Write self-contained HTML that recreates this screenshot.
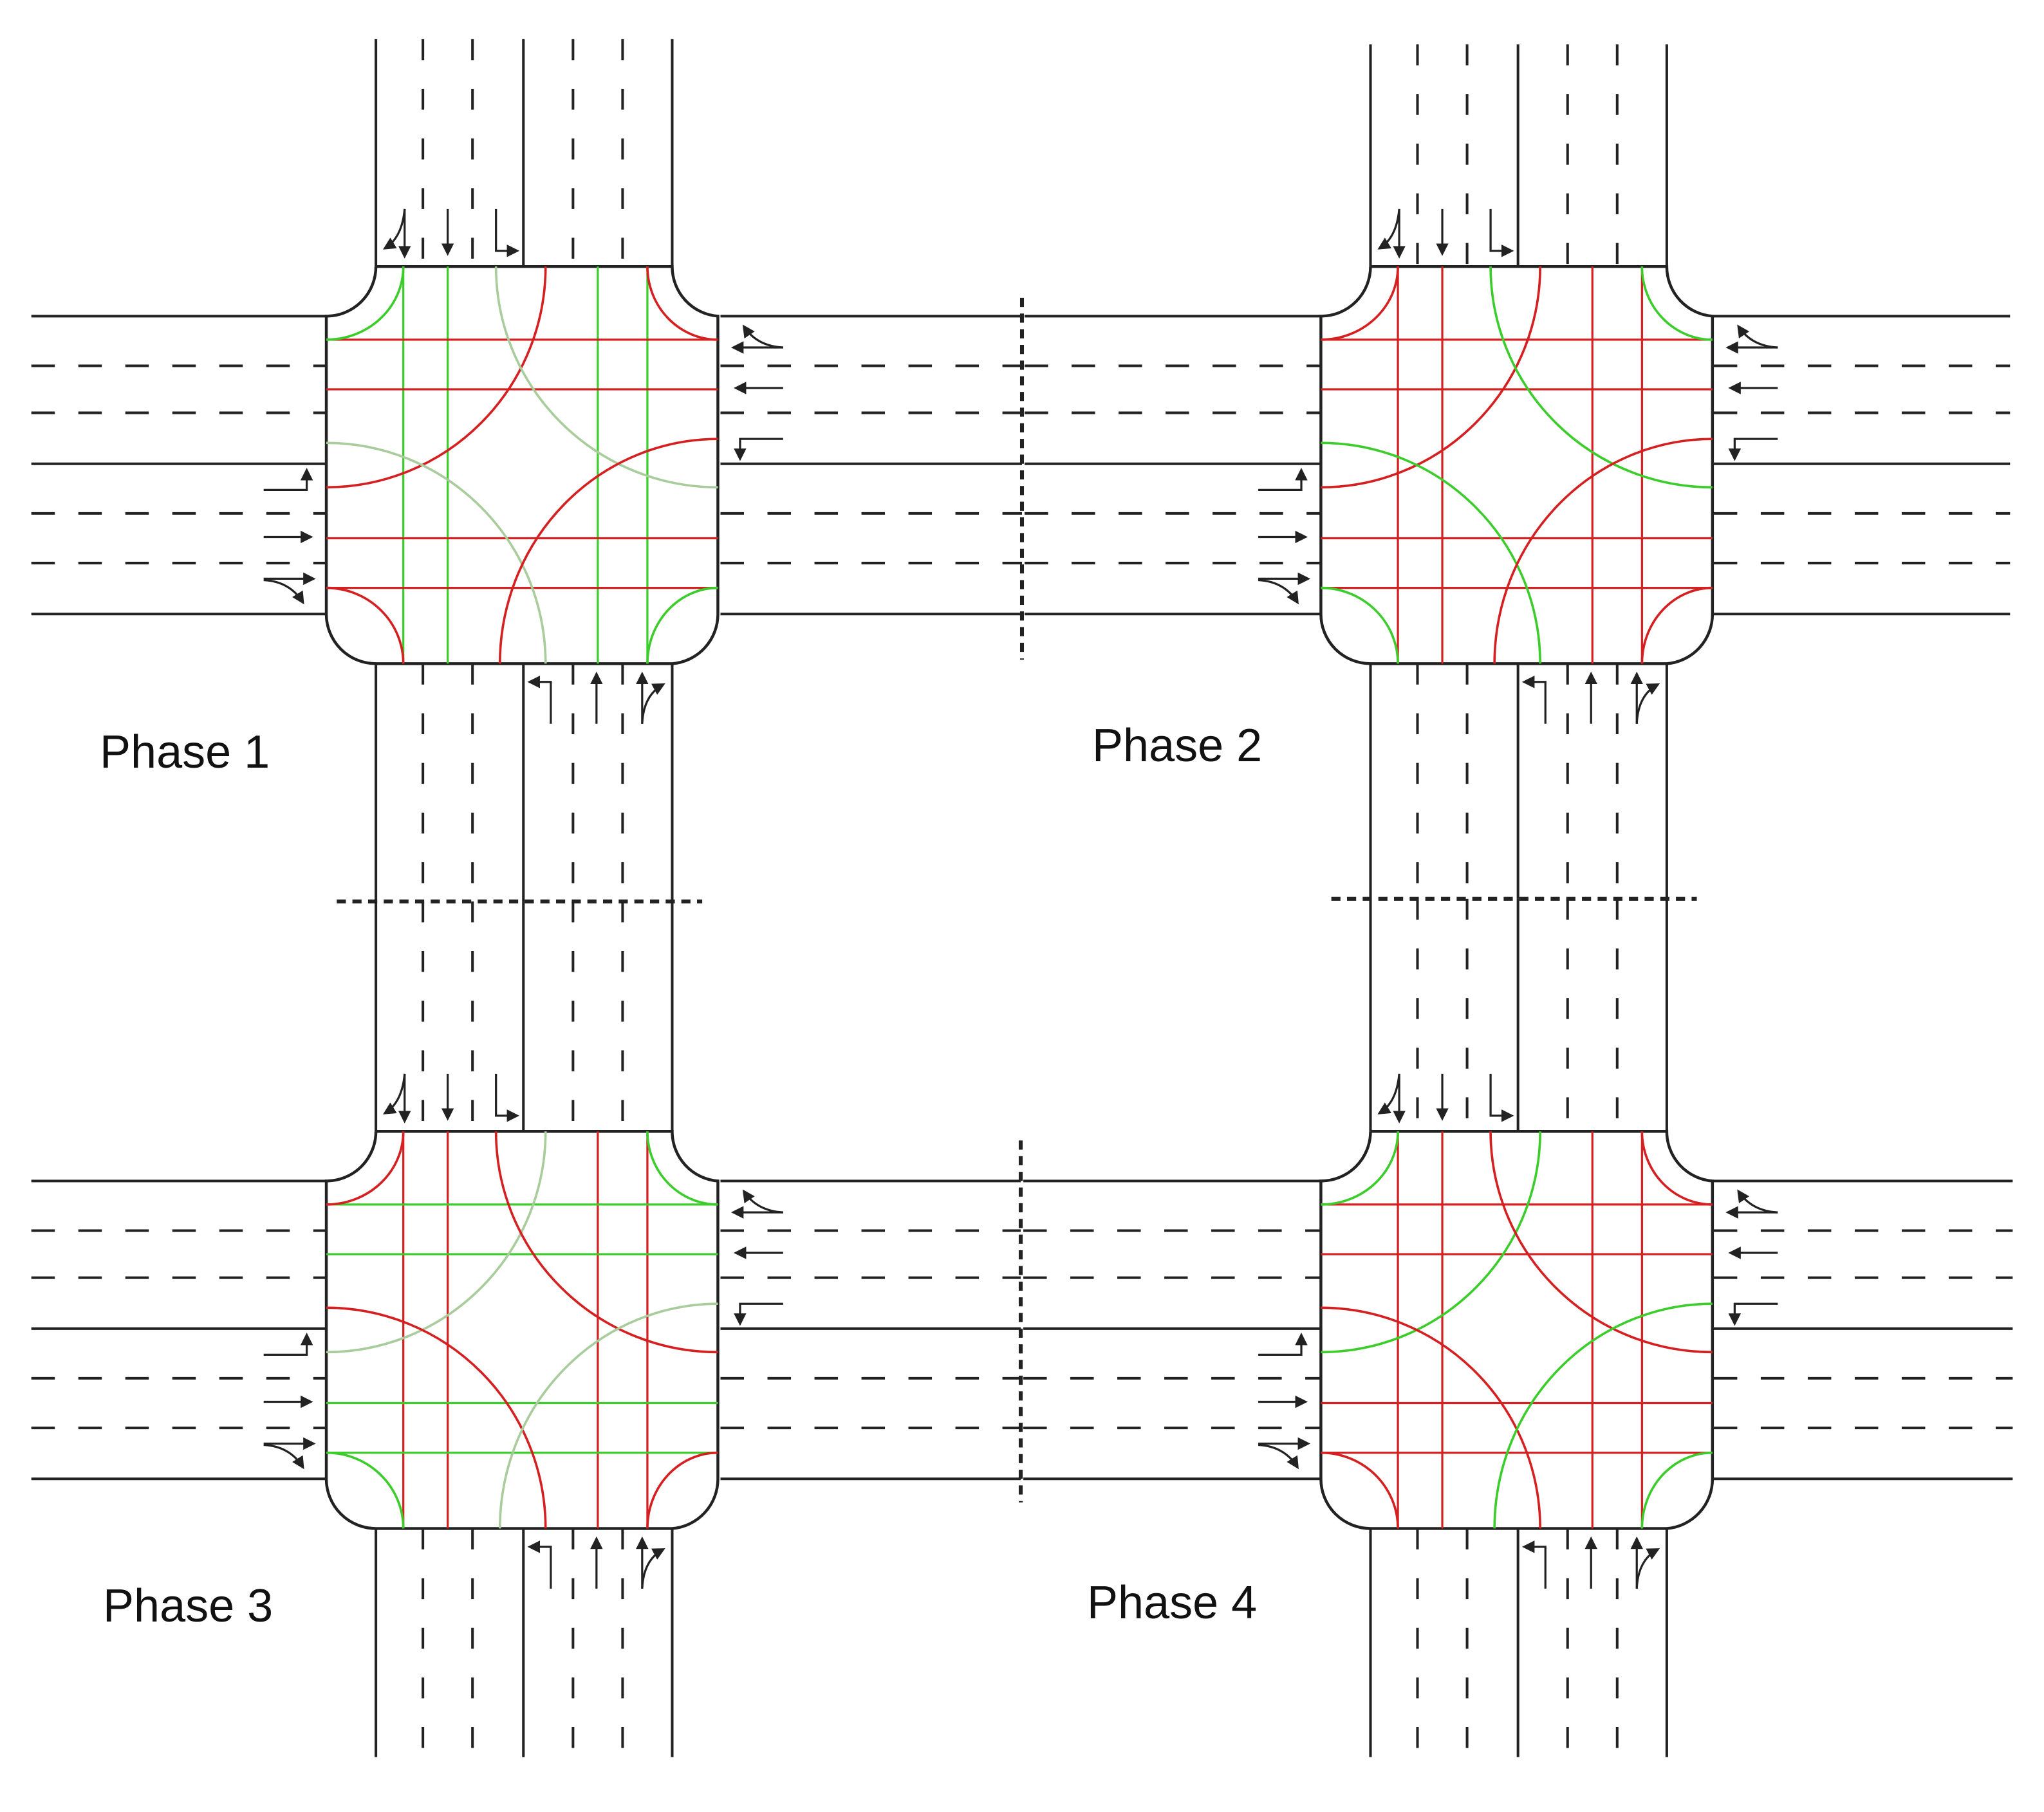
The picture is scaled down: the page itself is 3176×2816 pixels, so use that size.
<!DOCTYPE html>
<html><head><meta charset="utf-8">
<style>
html,body{margin:0;padding:0;background:#fff;}
#wrap{position:relative;width:3176px;height:2816px;overflow:hidden;}
svg{position:absolute;left:0;top:0;}
.lbl{position:absolute;font-family:"Liberation Sans",sans-serif;font-size:72px;color:#111;white-space:nowrap;}
</style></head>
<body>
<div id="wrap">
<svg id="s" width="3176" height="2816" viewBox="0 0 1566 1387" preserveAspectRatio="none" xmlns="http://www.w3.org/2000/svg">
<defs>
<marker id="ah" viewBox="0 0 10 10" refX="8" refY="5" markerWidth="6" markerHeight="6" orient="auto" markerUnits="strokeWidth">
<path d="M0,0 L10,5 L0,10 z" fill="#222"/>
</marker>
</defs>
<g id="g"></g>
</svg>
<div class="lbl" style="left:155px;top:1128px;">Phase 1</div>
<div class="lbl" style="left:1697px;top:1118px;">Phase 2</div>
<div class="lbl" style="left:160px;top:2455px;">Phase 3</div>
<div class="lbl" style="left:1689px;top:2450px;">Phase 4</div>
</div>
<script>
var g=document.getElementById('g');var out='';
var R='#d42020',G='#3ccc2c',P='#a9cc9c',K='#222';
function L(x1,y1,x2,y2,c,w,d){out+='<line x1="'+x1+'" y1="'+y1+'" x2="'+x2+'" y2="'+y2+'" stroke="'+c+'" stroke-width="'+w+'"'+(d?' stroke-dasharray="'+d+'"':'')+'/>';}
function Pth(d,c,w,m){out+='<path d="'+d+'" fill="none" stroke="'+c+'" stroke-width="'+w+'"'+(m?' marker-end="url(#ah)"':'')+'/>';}
var D='18,18';
function vroad(ox,y1,y2){
 L(ox+38,y1,ox+38,y2,K,2);L(ox+151,y1,ox+151,y2,K,2);L(ox+265,y1,ox+265,y2,K,2);
 [74,112,189,227].forEach(function(d){L(ox+d,y1,ox+d,y2,K,2,'16,22');});
}
function hroad(oy,x1,x2){
 L(x1,oy+38,x2,oy+38,K,2);L(x1,oy+151,x2,oy+151,K,2);L(x1,oy+266,x2,oy+266,K,2);
 [76,112,189,227].forEach(function(d){L(x1,oy+d,x2,oy+d,K,2,D);});
}
function inter(ox,oy,c){
 var W=300,H=304,x2=ox+W,y2=oy+H;
 Pth('M'+(ox+38)+','+oy+' H'+(ox+265)+' A38,38 0 0 0 '+x2+','+(oy+38)+' V'+(oy+266)+' A38,38 0 0 1 '+(ox+265)+','+y2+' H'+(ox+38)+' A38,38 0 0 1 '+ox+','+(oy+266)+' V'+(oy+38)+' A38,38 0 0 0 '+(ox+38)+','+oy,K,2.2);
 [59,93,208,246].forEach(function(d){L(ox+d,oy,ox+d,y2,c.v,1.6);});
 [56,94,208,246].forEach(function(d){L(ox,oy+d,x2,oy+d,c.h,1.6);});
 Pth('M'+ox+','+(oy+56)+' A59,56 0 0 0 '+(ox+59)+','+oy,c.ctl,1.8);
 Pth('M'+(ox+246)+','+oy+' A54,56 0 0 0 '+x2+','+(oy+56),c.ctr,1.8);
 Pth('M'+ox+','+(oy+246)+' A59,58 0 0 1 '+(ox+59)+','+y2,c.cbl,1.8);
 Pth('M'+(ox+246)+','+y2+' A54,58 0 0 1 '+x2+','+(oy+246),c.cbr,1.8);
 Pth('M'+(ox+168)+','+oy+' A168,169 0 0 1 '+ox+','+(oy+169),c.atl,1.8);
 Pth('M'+(ox+130)+','+oy+' A170,169 0 0 0 '+x2+','+(oy+169),c.atr,1.8);
 Pth('M'+ox+','+(oy+135)+' A168,169 0 0 1 '+(ox+168)+','+y2,c.abl,1.8);
 Pth('M'+x2+','+(oy+132)+' A167,172 0 0 0 '+(ox+133)+','+y2,c.abr,1.8);
 var a=1.6;
 Pth('M'+(ox+60)+','+(oy-44)+' V'+(oy-8),K,a,1);
 Pth('M'+(ox+60)+','+(oy-44)+' Q'+(ox+58)+','+(oy-22)+' '+(ox+45)+','+(oy-14),K,a,1);
 Pth('M'+(ox+93)+','+(oy-44)+' V'+(oy-10),K,a,1);
 Pth('M'+(ox+130)+','+(oy-44)+' V'+(oy-12)+' H'+(ox+146),K,a,1);
 Pth('M'+(ox+172)+','+(oy+350)+' V'+(oy+318)+' H'+(ox+156),K,a,1);
 Pth('M'+(ox+207)+','+(oy+350)+' V'+(oy+312),K,a,1);
 Pth('M'+(ox+242)+','+(oy+350)+' V'+(oy+312),K,a,1);
 Pth('M'+(ox+242)+','+(oy+350)+' Q'+(ox+243)+','+(oy+328)+' '+(ox+258)+','+(oy+320),K,a,1);
 Pth('M'+(ox-48)+','+(oy+171)+' H'+(ox-15)+' V'+(oy+156),K,a,1);
 Pth('M'+(ox-48)+','+(oy+207)+' H'+(ox-12),K,a,1);
 Pth('M'+(ox-48)+','+(oy+239)+' H'+(ox-10),K,a,1);
 Pth('M'+(ox-48)+','+(oy+240)+' Q'+(ox-28)+','+(oy+241)+' '+(ox-18)+','+(oy+257),K,a,1);
 Pth('M'+(ox+350)+','+(oy+62)+' H'+(ox+312),K,a,1);
 Pth('M'+(ox+350)+','+(oy+62)+' Q'+(ox+330)+','+(oy+61)+' '+(ox+320)+','+(oy+46),K,a,1);
 Pth('M'+(ox+350)+','+(oy+93)+' H'+(ox+314),K,a,1);
 Pth('M'+(ox+350)+','+(oy+132)+' H'+(ox+317)+' V'+(oy+147),K,a,1);
}
vroad(250,30,204);vroad(250,508,690);vroad(250,690,866);vroad(250,1170,1345);
vroad(1012,34,204);vroad(1012,508,688);vroad(1012,688,866);vroad(1012,1170,1345);
hroad(204,24,250);hroad(204,552,783);hroad(204,785,1013);hroad(204,1313,1540);
hroad(866,24,250);hroad(866,552,782);hroad(866,784,1013);hroad(866,1313,1542);
L(258,690,538,690,K,3,'7,5');L(1020,688,1300,688,K,3,'7,5');
L(783,228,783,505,K,3,'7,5');L(782,873,782,1150,K,3,'7,5');
inter(250,204,{v:G,h:R,ctl:G,ctr:R,cbl:R,cbr:G,atl:R,atr:P,abl:P,abr:R});
inter(1012,204,{v:R,h:R,ctl:R,ctr:G,cbl:G,cbr:R,atl:R,atr:G,abl:G,abr:R});
inter(250,866,{v:R,h:G,ctl:R,ctr:G,cbl:G,cbr:R,atl:P,atr:R,abl:R,abr:P});
inter(1012,866,{v:R,h:R,ctl:G,ctr:R,cbl:R,cbr:G,atl:G,atr:R,abl:R,abr:G});
g.innerHTML=out;
</script>
</body></html>
